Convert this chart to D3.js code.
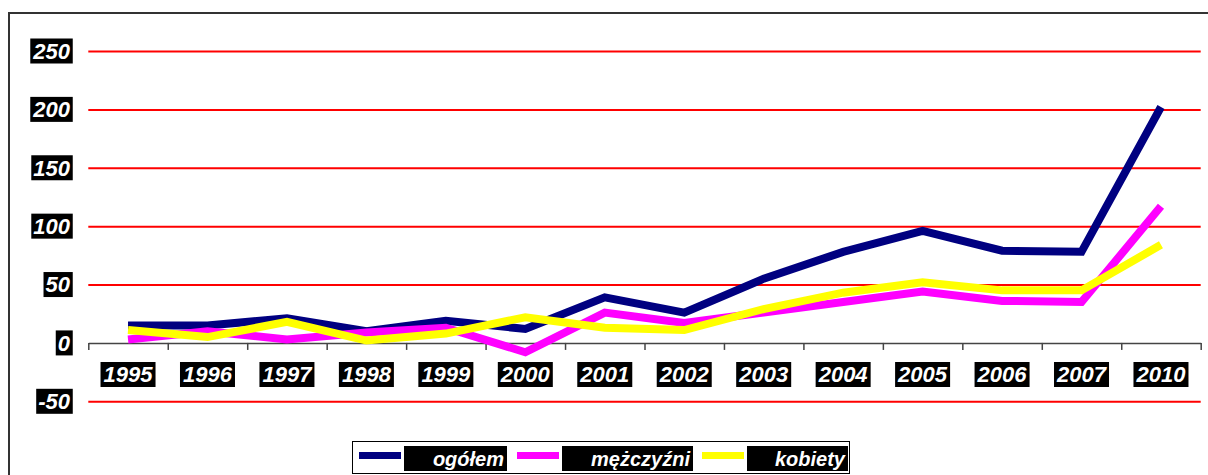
<!DOCTYPE html>
<html>
<head>
<meta charset="utf-8">
<script src="https://cdn.jsdelivr.net/npm/d3@7"></script>
<style>
  body { margin: 0; background: #fff; }
  svg { display: block; }
  text { font-family: "Liberation Sans", Arial, sans-serif; font-weight: bold; font-style: italic; }
</style>
</head>
<body>
<div id="chart"></div>
<script>
// data
var years = ["1995", "1996", "1997", "1998", "1999", "2000", "2001", "2002", "2003", "2004", "2005", "2006", "2007", "2010"];
var ogolem = [15, 15, 21, 10, 19, 12, 39, 26, 55, 78, 96, 79, 78, 202];
var mezczyzni = [3, 10, 3, 9, 13, -8, 26, 17, 26, 35, 44, 36, 35, 117];
var kobiety = [11, 5, 18, 2, 8, 22, 13, 11, 29, 43, 52, 45, 45, 84];
var yTicks = [-50, 0, 50, 100, 150, 200, 250];
var seriesNames = ["ogółem", "mężczyźni", "kobiety"];
var seriesColors = ["#000080", "#ff00ff", "#ffff00"];

var W = 1208, H = 475;
var svg = d3.select("#chart").append("svg").attr("width", W).attr("height", H);

// outer frame (only left and top edges visible)
svg.append("path").attr("d", "M9,475V13H1208").attr("fill", "none").attr("stroke", "#333").attr("stroke-width", 2);

var left = 88.3, right = 1200.7;
var x = d3.scaleBand().domain(years).range([left, right]);
var y = d3.scaleLinear().domain([-50, 250]).range([401.3, 51]);

// red gridlines
svg.append("g")
    .attr("transform", "translate(" + left + ",0)")
    .call(d3.axisLeft(y).tickValues(yTicks.filter(function(d) { return d !== 0; })).tickSize(-(right - left)).tickFormat(""))
    .call(function(g) {
        g.select(".domain").remove();
        g.selectAll("line").attr("stroke", "#ff0000").attr("stroke-width", 2);
    });

// category axis with ticks on band edges
var edges = d3.scaleLinear().domain([0, years.length]).range([left, right]);
svg.append("g")
    .attr("transform", "translate(0," + y(0) + ")")
    .call(d3.axisBottom(edges).tickValues(d3.range(years.length + 1)).tickSize(7).tickSizeOuter(0).tickFormat(""))
    .call(function(g) {
        g.select(".domain").attr("stroke", "#444").attr("stroke-width", 1.5);
        g.selectAll("line").attr("stroke", "#444").attr("stroke-width", 1.5);
    });

// helper: white text on black box
function boxedLabel(g, txt, tx, ty, anchor, size, padL, padR, boxW) {
    var rect = g.append("rect").attr("fill", "#000");
    var t = g.append("text").attr("x", tx).attr("y", ty)
        .attr("text-anchor", anchor).attr("font-size", size).attr("fill", "#fff")
        .attr("dy", "0.36em").text(txt);
    var b = t.node().getBBox();
    var bx, bw;
    if (boxW) {
        bw = boxW;
        bx = anchor === "end" ? tx + padR - bw : anchor === "middle" ? tx - bw / 2 : b.x - padL;
    } else { bx = b.x - padL; bw = b.width + padL + padR; }
    rect.attr("x", bx).attr("y", ty - 12.5).attr("width", bw).attr("height", 25);
}

// y labels
var yl = svg.append("g");
yTicks.forEach(function(v) {
    boxedLabel(yl.append("g"), v, 70, y(v), "end", 22, 2, 2);
});

// x labels
var xl = svg.append("g");
years.forEach(function(yr) {
    boxedLabel(xl.append("g"), yr, x(yr) + x.bandwidth() / 2, 374.5, "middle", 22, 0, 0, 55);
});

// lines
var allSeries = [ogolem, mezczyzni, kobiety];
var line = d3.line()
    .x(function(d, i) { return x(years[i]) + x.bandwidth() / 2; })
    .y(function(d) { return y(d); });

svg.append("g").selectAll("path")
    .data(allSeries.map(function(s, i) { return { v: s, c: seriesColors[i] }; }))
    .enter().append("path")
    .attr("d", function(d) { return line(d.v); })
    .attr("fill", "none")
    .attr("stroke", function(d) { return d.c; })
    .attr("stroke-width", 8)
    .attr("stroke-linejoin", "miter")
    .attr("stroke-linecap", "butt");

// legend
var lg = svg.append("g");
lg.append("rect").attr("x", 352.5).attr("y", 441.5).attr("width", 497).attr("height", 32)
    .attr("fill", "#fff").attr("stroke", "#000").attr("stroke-width", 1);
var legendPos = [
    { sx: 359, sw: 42, bx: 404, bw: 103 },
    { sx: 517, sw: 42, bx: 562, bw: 131 },
    { sx: 702, sw: 42, bx: 747, bw: 101 }
];
seriesNames.forEach(function(n, i) {
    var p = legendPos[i];
    lg.append("line").attr("x1", p.sx).attr("x2", p.sx + p.sw).attr("y1", 455.5).attr("y2", 455.5)
        .attr("stroke", seriesColors[i]).attr("stroke-width", 7);
    var g = lg.append("g");
    boxedLabel(g, n, p.bx + p.bw - 3, 458.5, "end", 20, 0, 3, p.bw);
});
</script>
</body>
</html>
